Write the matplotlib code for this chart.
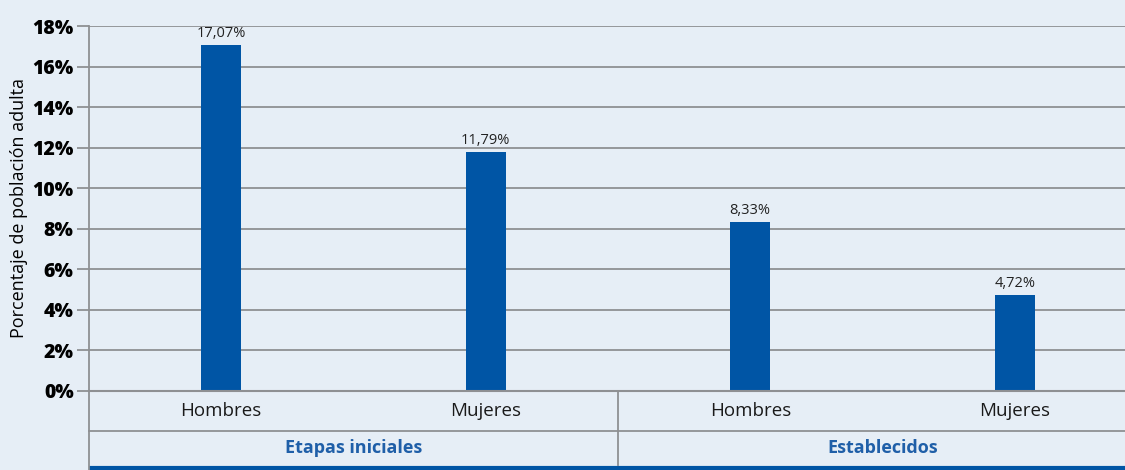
import matplotlib.pyplot as plt

# data
categorias = ["Hombres", "Mujeres", "Hombres", "Mujeres"]
grupos = ["Etapas iniciales", "Establecidos"]
valores = [17.07, 11.79, 8.33, 4.72]
yticks = [0, 2, 4, 6, 8, 10, 12, 14, 16, 18]

fondo = "#E6EEF6"
azul = "#0055A5"
gris = "#8E9093"

plt.rcParams['font.family'] = ['Open Sans', 'DejaVu Sans']

fig = plt.figure(figsize=(11.25, 4.70), dpi=100)
fig.patch.set_facecolor(fondo)

# axes: left edge at x=89px, 4 category slots ~265px each (runs past the right edge)
ax = fig.add_axes([89 / 1125, 79 / 470, 1058 / 1125, 365 / 470])
ax.set_facecolor(fondo)

x = list(range(len(valores)))
ax.bar(x, valores, width=0.15, color=azul, zorder=3)
for xi, v in zip(x, valores):
    ax.text(xi, v + 0.2, f"{v:.2f}%".replace(".", ","), ha="center", va="bottom",
            fontsize=10.5, color="#222222")

ax.set_xlim(-0.5, 3.5)
ax.set_ylim(0, 18)
ax.set_yticks(yticks)
ax.set_yticklabels([f"{t}%" for t in yticks], fontsize=14, fontweight=800)
ax.tick_params(axis="y", length=9, width=1.3, color=gris, pad=2)
ax.set_xticks([])
ax.grid(axis="y", color=gris, linewidth=1.3, zorder=0)
for s in ax.spines.values():
    s.set_visible(False)

ax.set_ylabel("Porcentaje de población adulta", fontsize=13, labelpad=3)

# category table below the plot
px = 18 / 365  # one pixel in data units (y)
y_row1 = -40 * px
y_bottom = -79 * px
ax.plot([-0.5, -0.5], [y_bottom, 18], color=gris, lw=1.3, clip_on=False, zorder=4)
ax.plot([-0.5, 3.5], [0, 0], color=gris, lw=1.5, clip_on=False, zorder=4)
ax.plot([-0.5, 3.5], [y_row1, y_row1], color=gris, lw=1.3, clip_on=False)
ax.plot([1.5, 1.5], [0, -74 * px], color=gris, lw=1.3, clip_on=False)
ax.plot([-0.5, 3.5], [-76.5 * px, -76.5 * px], color=azul, lw=3, clip_on=False,
        solid_capstyle="butt")

for xi, c in zip(x, categorias):
    ax.text(xi, -20 * px, c, ha="center", va="center", fontsize=13.5, color="#1a1a1a")
for gi, g in enumerate(grupos):
    ax.text(gi * 2 + 0.5, -57 * px, g, ha="center", va="center", fontsize=13,
            fontweight="bold", color="#1F5FA8")

fig.savefig("out.png", dpi=100, facecolor=fondo)
